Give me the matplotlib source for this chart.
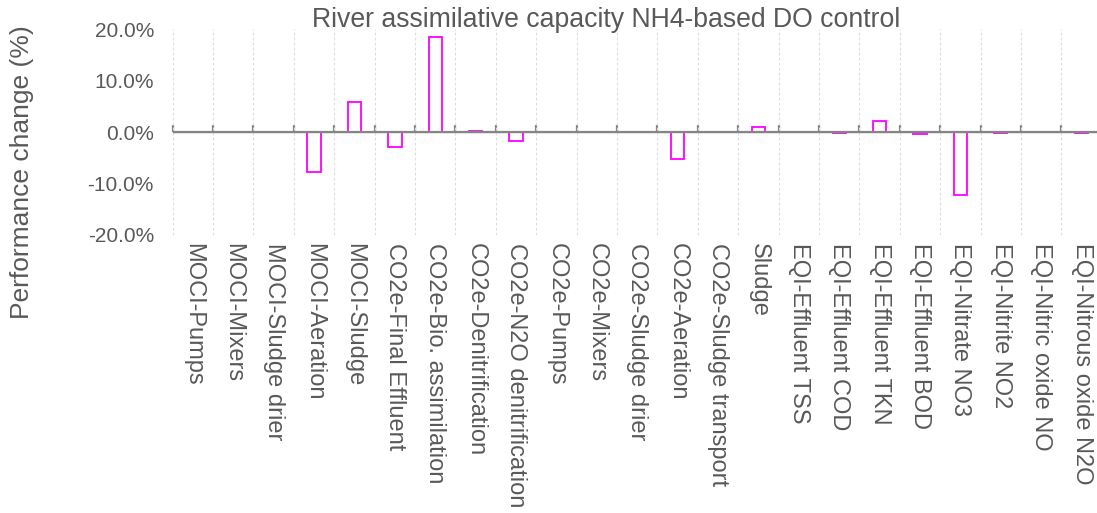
import matplotlib
matplotlib.use("Agg")
import matplotlib.pyplot as plt
from matplotlib.ticker import FuncFormatter, FixedLocator

categories = [
    "MOCI-Pumps", "MOCI-Mixers", "MOCI-Sludge drier", "MOCI-Aeration", "MOCI-Sludge",
    "CO2e-Final Effluent", "CO2e-Bio. assimilation", "CO2e-Denitrification",
    "CO2e-N2O denitrification", "CO2e-Pumps", "CO2e-Mixers", "CO2e-Sludge drier",
    "CO2e-Aeration", "CO2e-Sludge transport", "Sludge", "EQI-Effluent TSS",
    "EQI-Effluent COD", "EQI-Effluent TKN", "EQI-Effluent BOD", "EQI-Nitrate NO3",
    "EQI-Nitrite NO2", "EQI-Nitric oxide NO", "EQI-Nitrous oxide N2O",
]
change_pct = [
    0.0, 0.0, 0.1, -7.8, 5.9,
    -2.8, 18.6, 0.3,
    -1.8, 0.0, 0.0, 0.1,
    -5.2, 0.1, 1.0, 0.1,
    -0.1, 2.1, -0.3, -12.3,
    -0.1, 0.0, -0.1,
]
y_ticks = [-20, -10, 0, 10, 20]
title = "River assimilative capacity NH4-based DO control"
y_label = "Performance change (%)"

plt.rcParams["font.family"] = ["Liberation Sans", "DejaVu Sans"]
text_color = "#595959"
axis_gray = "#858585"

fig = plt.figure(figsize=(10.97, 5.13), dpi=100)
ax = fig.add_axes([0.1574, 0.542, 0.847, 0.4006])

x = list(range(len(categories)))
nonzero = [(i, v) for i, v in zip(x, change_pct) if v != 0]
ax.bar([i for i, _ in nonzero], [v for _, v in nonzero], width=0.33, fill=False,
       edgecolor="#FF00FF", linewidth=1.3, zorder=2)

ax.set_xlim(-0.5, len(categories) - 0.5)
ax.set_ylim(y_ticks[0], y_ticks[-1])

# category boundaries: dashed guides
bounds = [i - 0.5 for i in range(len(categories) + 1)]
ax.xaxis.set_minor_locator(FixedLocator(bounds))
ax.grid(which="minor", axis="x", color="#DDDDDD", linestyle=(0, (2.5, 2)), linewidth=0.8)
ax.set_axisbelow(True)

ax.set_xticks(x)
ax.set_xticklabels(categories, rotation=270, ha="center", va="top",
                   fontsize=17, color=text_color)
ax.tick_params(axis="x", which="both", length=0, pad=6)

ax.set_yticks(y_ticks)
ax.yaxis.set_major_formatter(FuncFormatter(lambda v, _: f"{v:.1f}%"))
ax.tick_params(axis="y", length=0, pad=13.5, labelsize=15, labelcolor=text_color)

for s in ax.spines.values():
    s.set_visible(False)

# zero axis line over the bars, with tick marks at category boundaries
ax.axhline(0, color=axis_gray, linewidth=1.6, zorder=4)
zero_ax = ax.secondary_xaxis(0.5)
zero_ax.spines["bottom"].set_visible(False)
zero_ax.set_xticks(bounds)
zero_ax.set_xticklabels([])
zero_ax.tick_params(axis="x", length=5, width=1.6, color=axis_gray, direction="out")

fig.text(606 / 1097, 1 - 20 / 513, title, ha="center", va="center",
         fontsize=19.2, color=text_color)
fig.text(22 / 1097, 1 - 172 / 513, y_label, ha="center", va="center",
         rotation=90, fontsize=19, color=text_color)

fig.savefig("out.png", dpi=100)
